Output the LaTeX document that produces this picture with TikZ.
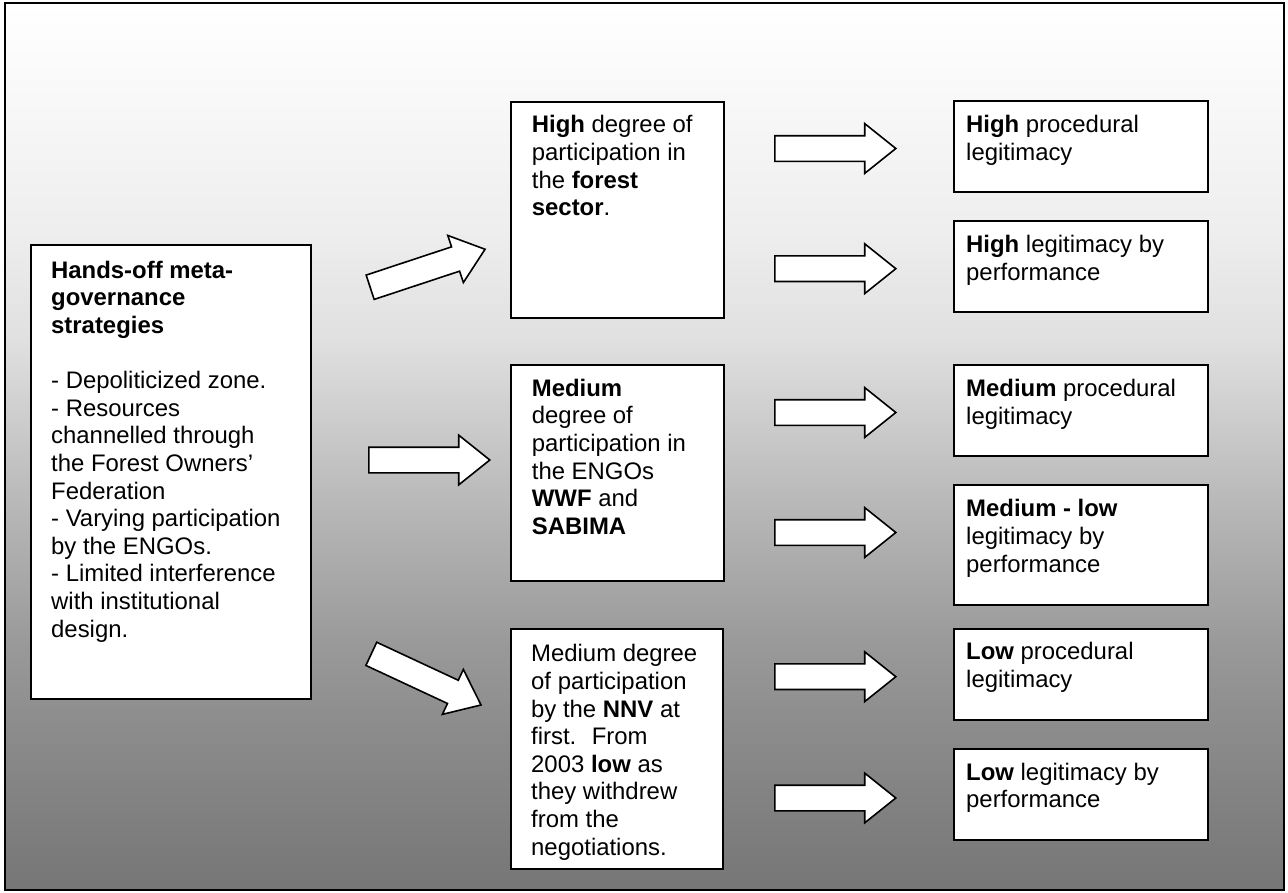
\documentclass[tikz,border=0pt]{standalone}
\usepackage{fontspec}
\setmainfont{Liberation Sans}
\usetikzlibrary{shapes.arrows}
\definecolor{c3}{RGB}{255,255,255}
\definecolor{c60}{RGB}{251,251,251}
\definecolor{c230}{RGB}{238,238,238}
\definecolor{c340}{RGB}{224,224,224}
\definecolor{c500}{RGB}{185,185,185}
\definecolor{c640}{RGB}{154,154,154}
\definecolor{c740}{RGB}{138,138,138}
\definecolor{c890}{RGB}{118,118,118}
\pgfdeclareverticalshading{bgshade}{100bp}{color(0bp)=(c890); color(25bp)=(c890); color(33.45bp)=(c740); color(39.1bp)=(c640); color(46.98bp)=(c500); color(56bp)=(c340); color(62.2bp)=(c230); color(71.79bp)=(c60); color(75bp)=(c3); color(100bp)=(c3)}
\tikzset{
  box/.style={draw=black, line width=1.8pt, fill=white, inner sep=0pt, anchor=north west},
  txt/.style={anchor=north west, inner sep=0pt, align=left, font=\fontsize{23.9}{27.6}\selectfont},
  blockarrow/.style={draw=black, line width=1.6pt, fill=white, single arrow, single arrow head extend=12pt, single arrow tip angle=77.3, minimum height=121pt, inner xsep=0pt, inner ysep=12pt, anchor=tail},
}
\begin{document}
\begin{tikzpicture}[x=1pt,y=-1pt]
\useasboundingbox (0,0) rectangle (1288,892);
\shade[shading=bgshade] (4.5,3) rectangle (1284,890);
\draw[line width=2pt] (4.5,3) rectangle (1284,890);
% boxes
\node[box, minimum width=280pt, minimum height=454pt] (L) at (30,244) {};
\node[box, minimum width=213pt, minimum height=216pt] (M1) at (510,101) {};
\node[box, minimum width=213pt, minimum height=216pt] (M2) at (510,364) {};
\node[box, minimum width=212pt, minimum height=240pt] (M3) at (510,628) {};
\node[box, minimum width=254pt, minimum height=91pt] (R1) at (953,100) {};
\node[box, minimum width=254pt, minimum height=91pt] (R2) at (953,220) {};
\node[box, minimum width=254pt, minimum height=91pt] (R3) at (953,364) {};
\node[box, minimum width=254pt, minimum height=120pt] (R4) at (953,484) {};
\node[box, minimum width=254pt, minimum height=91pt] (R5) at (953,628) {};
\node[box, minimum width=254pt, minimum height=91pt] (R6) at (953,748) {};
% texts
\node[txt] (Lt) at (51,258.7) {\strut\textbf{Hands-off meta-}\\\textbf{governance}\\\textbf{strategies}\\\mbox{}\\- Depoliticized zone.\\- Resources\\channelled through\\the Forest Owners’\\Federation\\- Varying participation\\by the ENGOs.\\- Limited interference\\with institutional\\design.};
\node[txt] (M1t) at (531.7,113.4) {\strut\textbf{High} degree of\\participation in\\the \textbf{forest}\\\textbf{sector}.};
\node[txt] (M2t) at (531.7,376.7) {\strut\textbf{Medium}\\degree of\\participation in\\the ENGOs\\\textbf{WWF} and\\\textbf{SABIMA}};
\node[txt] (M3t) at (531,642.4) {\strut Medium degree\\of participation\\by the \textbf{NNV} at\\first.~ From\\2003 \textbf{low} as\\they withdrew\\from the\\negotiations.};
\node[txt] (R1t) at (966,113.4) {\strut\textbf{High} procedural\\legitimacy};
\node[txt] (R2t) at (966,233.4) {\strut\textbf{High} legitimacy by\\performance};
\node[txt] (R3t) at (966,377.4) {\strut\textbf{Medium} procedural\\legitimacy};
\node[txt] (R4t) at (966,497.4) {\strut\textbf{Medium - low}\\legitimacy by\\performance};
\node[txt] (R5t) at (966,640) {\strut\textbf{Low} procedural\\legitimacy};
\node[txt] (R6t) at (966,760.7) {\strut\textbf{Low} legitimacy by\\performance};
% arrows
\node[blockarrow, rotate=18.3] (a1) at (369.4,287.5) {};
\node[blockarrow] (a2) at (368,460) {};
\node[blockarrow, rotate=-25] (a3) at (370.6,653.5) {};
\node[blockarrow] (b1) at (774,148.5) {};
\node[blockarrow] (b2) at (774,268.7) {};
\node[blockarrow] (b3) at (774,412.5) {};
\node[blockarrow] (b4) at (774,532.5) {};
\node[blockarrow] (b5) at (774,676.7) {};
\node[blockarrow] (b6) at (774,798) {};
\end{tikzpicture}
\end{document}
